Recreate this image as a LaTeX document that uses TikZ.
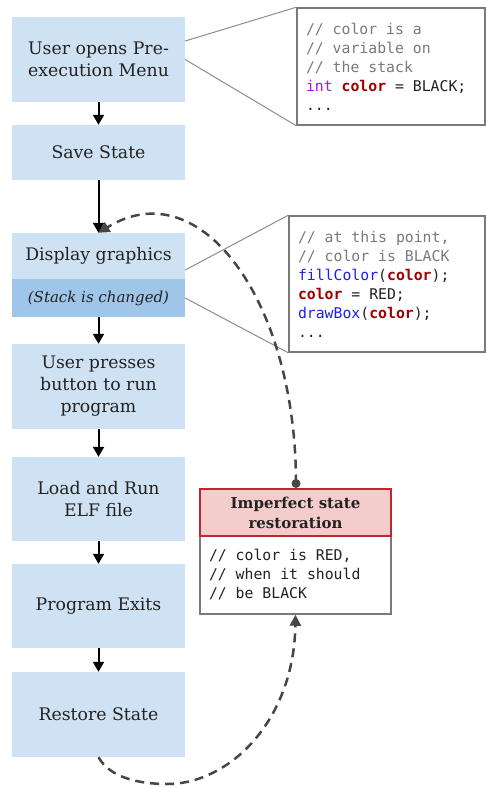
\documentclass[tikz,border=0pt]{standalone}
\usepackage{fontspec}
\setmainfont{DejaVu Serif}
\newfontfamily\codefont{DejaVu Sans Mono}
\usetikzlibrary{arrows.meta,calc}

\definecolor{stepfill}{HTML}{CFE2F3}
\definecolor{stepdark}{HTML}{9FC5E8}
\definecolor{warnfill}{HTML}{F4CCCC}
\definecolor{warnline}{HTML}{C0282D}
\definecolor{framegray}{HTML}{7A7A7A}
\definecolor{leadgray}{HTML}{8C8C8C}
\definecolor{linkgray}{HTML}{464646}
\definecolor{inkdark}{HTML}{222222}
\definecolor{cmtgray}{HTML}{7A7A7A}
\definecolor{kwpurple}{RGB}{170,20,230}
\definecolor{varred}{HTML}{A00000}
\definecolor{fnblue}{RGB}{30,30,245}

\newcommand\ccmt[1]{\textcolor{cmtgray}{#1}}
\newcommand\ckw[1]{\textcolor{kwpurple}{#1}}
\newcommand\cvar[1]{\textcolor{varred}{\bfseries #1}}
\newcommand\cfn[1]{\textcolor{fnblue}{#1}}
% fixed one-cell word spaces for the monospaced listings
% (align=left would otherwise shrink them to a third of an em)
\newcommand\monospaces{\spaceskip=0.602em\relax\xspaceskip=0.602em\relax}

\tikzset{
  stepbox/.style={rectangle, fill=stepfill, minimum width=173pt, inner sep=0pt,
    align=center, text=inkdark, font=\fontsize{17.3}{22}\selectfont},
  flowarrow/.style={line width=2pt, draw=black,
    -{Triangle[width=11pt,length=10pt]}},
  codebox/.style={rectangle, draw=framegray, line width=1.5pt, fill=white,
    inner xsep=9pt, inner ysep=0pt, align=left, text=inkdark,
    font=\codefont\fontsize{14.8}{19}\selectfont},
  leadline/.style={draw=leadgray, line width=1pt},
  dashedlink/.style={draw=linkgray, line width=2.5pt, dash pattern=on 9pt off 6pt,
    -{Triangle[width=11pt,length=11pt]}},
}

\begin{document}
\begin{tikzpicture}[x=1pt,y=-1pt]
\path[use as bounding box] (0,0) rectangle (486,787);

% flow of steps on the left
\node[stepbox, minimum height=85pt] (b1) at (98.5,59.5) {User opens Pre-\\execution Menu};
\node[stepbox, minimum height=55pt] (b2) at (98.5,152.5) {Save State};
\node[stepbox, minimum height=46pt] (b3a) at (98.5,256) {Display graphics};
\node[stepbox, minimum height=38pt, fill=stepdark, font=\fontsize{15}{20}\selectfont\itshape] (b3b) at (98.5,298) {(Stack is changed)};
\node[stepbox, minimum height=85pt] (b4) at (98.5,386.5) {User presses\\button to run\\program};
\node[stepbox, minimum height=84pt] (b5) at (98.5,499) {Load and Run\\ELF file};
\node[stepbox, minimum height=84pt] (b6) at (98.5,606) {Program Exits};
\node[stepbox, minimum height=85pt] (b7) at (98.5,714.5) {Restore State};

\draw[flowarrow] (b1.south) -- (b2.north);
\draw[flowarrow] (b2.south) -- (b3a.north);
\draw[flowarrow] (b3b.south) -- (b4.north);
\draw[flowarrow] (b4.south) -- (b5.north);
\draw[flowarrow] (b5.south) -- (b6.north);
\draw[flowarrow] (b6.south) -- (b7.north);

% code call-outs
\node[codebox, minimum width=188pt, minimum height=117pt, text width=170pt] (c1) at (391,66.5)
  {\monospaces
   \ccmt{// color is a}\\
   \ccmt{// variable on}\\
   \ccmt{// the stack}\\
   \ckw{int} \cvar{color} = BLACK;\\
   ...};
\node[codebox, minimum width=196pt, minimum height=136pt, text width=178pt] (c2) at (387,284)
  {\monospaces
   \ccmt{// at this point,}\\
   \ccmt{// color is BLACK}\\
   \cfn{fillColor}(\cvar{color});\\
   \cvar{color} = RED;\\
   \cfn{drawBox}(\cvar{color});\\
   ...};

\draw[leadline] ($(b1.east)+(0,-18.5)$) -- (c1.north west);
\draw[leadline] (b1.east) -- (c1.south west);
\draw[leadline] ($(b3a.east)+(0,14)$) -- (c2.north west);
\draw[leadline] (b3b.east) -- (c2.south west);

% warning box
\node[codebox, minimum width=191pt, minimum height=78pt, text width=173pt] (wb) at (295.5,575)
  {\monospaces
   // color is RED,\\
   // when it should\\
   // be BLACK};
\node[rectangle, draw=warnline, line width=1.5pt, fill=warnfill, minimum width=191pt,
  minimum height=47pt, inner sep=0pt, align=center, text=inkdark,
  font=\bfseries\fontsize{15}{20}\selectfont] (wh) at (295.5,512.5)
  {Imperfect state\\restoration};

% dashed links
\node[circle, fill=linkgray, minimum size=9pt, inner sep=0pt] (dot) at (296,483.5) {};
\draw[dashedlink] (dot.center) .. controls (296,300) and (200,170) .. (b3a.north);
\draw[dashedlink] (b7.south) .. controls (110,778) and (140,784) .. (167,784)
  .. controls (230,784) and (294,720) .. (wb.south);
\end{tikzpicture}
\end{document}
